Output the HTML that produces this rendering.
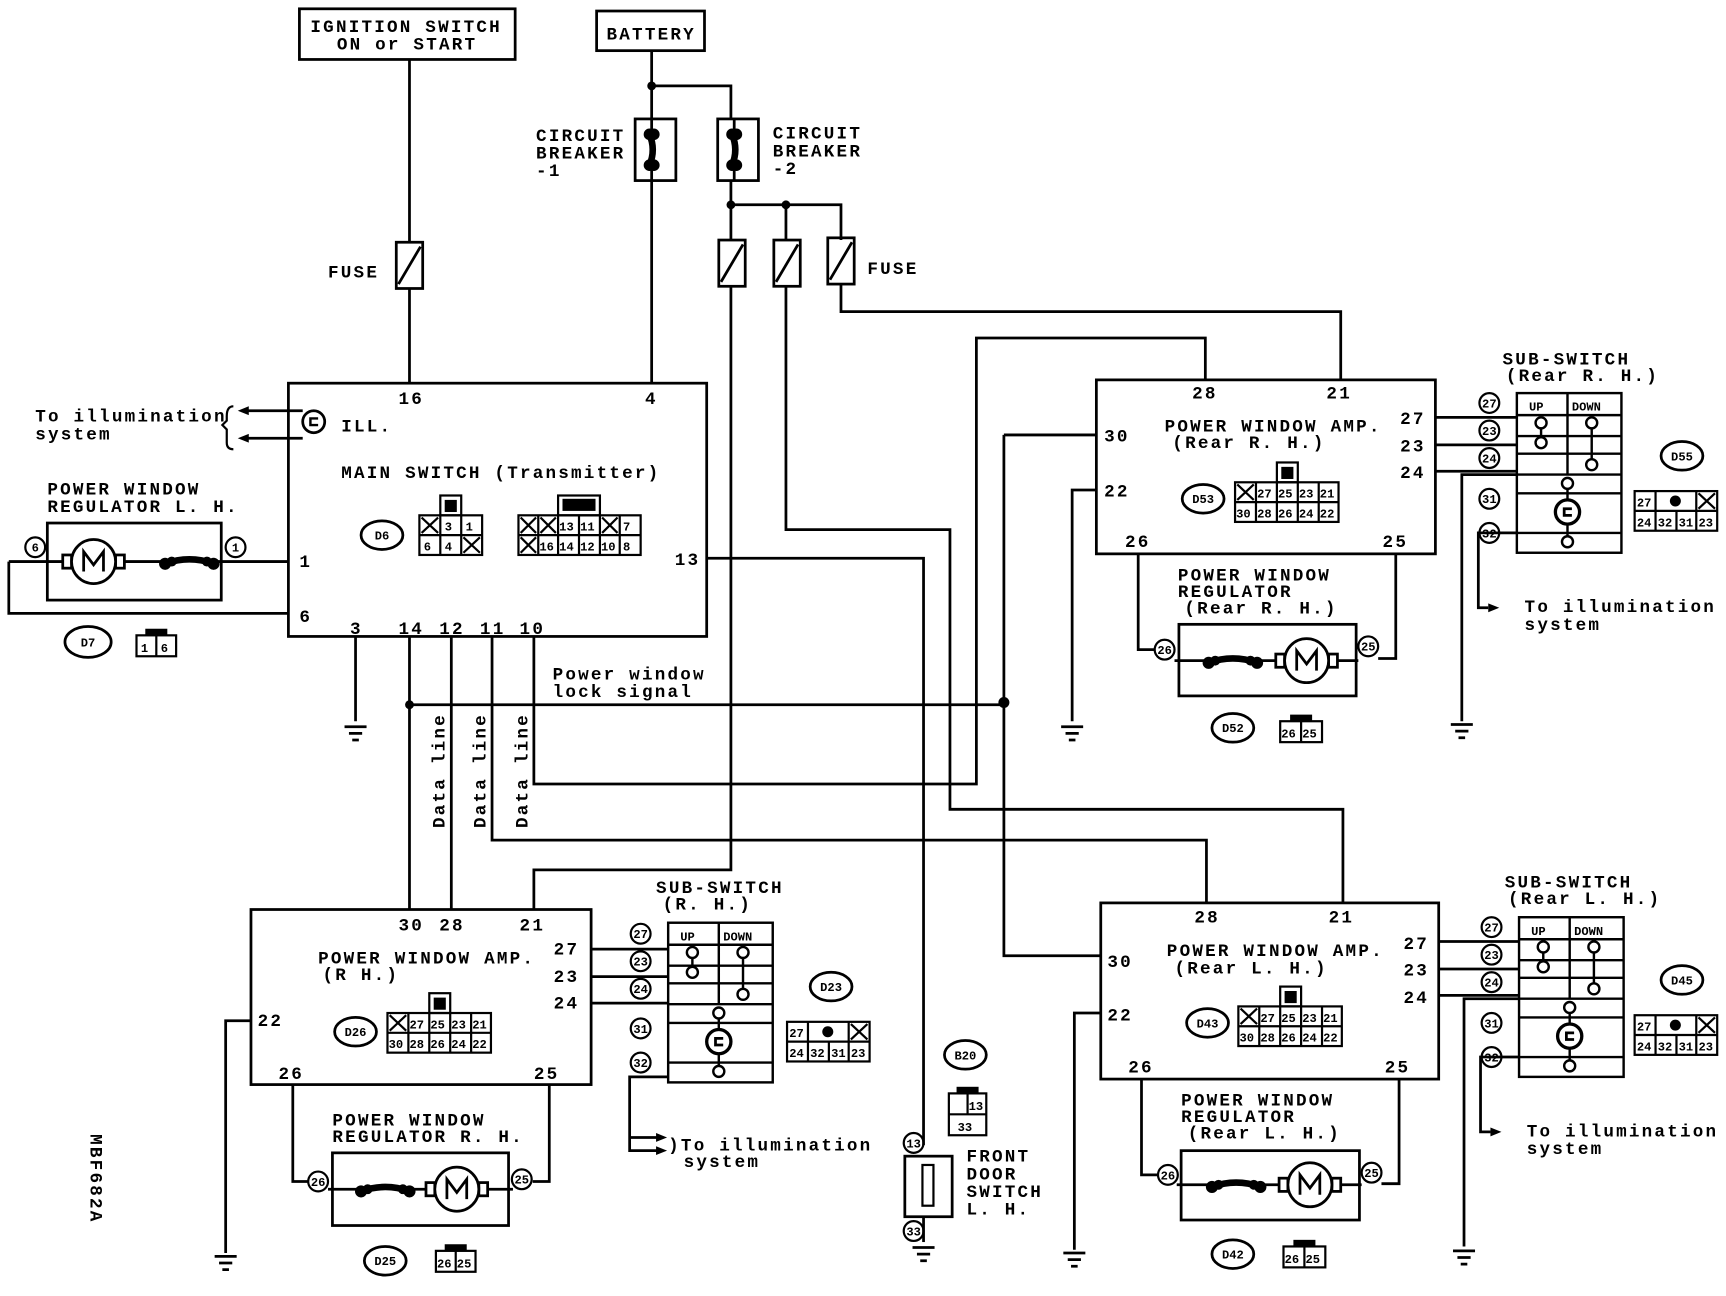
<!DOCTYPE html>
<html><head><meta charset="utf-8">
<style>
html,body{margin:0;padding:0;background:#fff;}
svg{display:block;}
text{font-family:"Liberation Mono",monospace;font-weight:bold;font-size:16px;fill:#000;letter-spacing:2px;}
.s{font-size:11px;letter-spacing:0;}
.m{font-size:14px;}
</style></head><body>
<svg width="1726" height="1296" viewBox="0 0 1568 1177" preserveAspectRatio="none" xmlns="http://www.w3.org/2000/svg">
<defs>
<g id="sw" fill="none" stroke="#000" stroke-width="2.2">
<rect x="0" y="0" width="95" height="145"/>
<path d="M0 20H95M0 39H95M0 55H95M0 74H95M0 91H95M0 127H95M46 0V74M22 27V45M68 27V65M46 82V135"/>
<circle cx="22" cy="27" r="5" fill="#fff"/><circle cx="22" cy="45" r="5" fill="#fff"/>
<circle cx="68" cy="27" r="5" fill="#fff"/><circle cx="68" cy="65" r="5" fill="#fff"/>
<circle cx="46" cy="82" r="5" fill="#fff"/><circle cx="46" cy="135" r="5" fill="#fff"/>
<circle cx="46" cy="108" r="11" fill="#fff" stroke-width="3"/><path d="M50 105H43V111H50" stroke-width="2.5"/>
</g>
<g id="pc" fill="none" stroke="#000" stroke-width="2"><circle cx="0" cy="0" r="9"/></g>
<g id="fuse" fill="none" stroke="#000" stroke-width="2.5"><rect x="-12" y="0" width="24" height="42"/><path d="M-10 38L10 4"/></g>
<g id="cb" fill="none" stroke="#000" stroke-width="2.5"><rect x="-15" y="0" width="37" height="56"/><path d="M0 -1V57" stroke-width="2.5"/><path d="M-2 14 Q4 28 -2 42" stroke-width="6"/><circle cx="-2" cy="14" r="4" fill="#000"/><circle cx="2" cy="14" r="4" fill="#000"/><circle cx="-2" cy="42" r="4" fill="#000"/><circle cx="2" cy="42" r="4" fill="#000"/></g>
<g id="motL" fill="none" stroke="#000" stroke-width="2.5"><rect x="-28" y="-6" width="8" height="12"/><rect x="20" y="-6" width="8" height="12"/><circle cx="0" cy="0" r="20" fill="#fff"/><path d="M-9 9V-9L0 3L9 -9V9"/></g>
<g id="bone" stroke="#000" fill="#000"><path d="M-22 0Q0 -8 22 0" stroke-width="6" fill="none"/><circle cx="-22" cy="0" r="5"/><circle cx="-16" cy="-2" r="4"/><circle cx="22" cy="0" r="5"/><circle cx="16" cy="-2" r="4"/></g>
<g id="gnd" stroke="#000" stroke-width="2.5"><path d="M-10 0H10M-6 6H6M-3 12H3"/></g>
</defs>

<g fill="none" stroke="#000" stroke-width="2.5">
<rect x="272" y="8" width="196" height="46"/>
<rect x="542" y="10" width="98" height="36"/>
<path d="M372 54V220M372 262V348"/>
<path d="M592 46V108M592 78H664V108M592 164V348M664 164V218M664 186H764V218M714 186V218"/>
<path d="M664 260V790H485V826"/>
<path d="M714 260V481H863V735H1220V820"/>
<path d="M764 258V283H1218V345"/>
<rect x="262" y="348" width="380" height="230"/>
<path d="M323 578V655"/>
<path d="M372 578V826M410 578V826M447 578V763H1096V820M485 578V712H887V307H1095V345"/>
<path d="M372 640H912M912 395H996M912 395V868H1000"/>
<path d="M642 507H839V1040"/>
<path d="M275 373H222M275 398H222"/>
<path d="M212 369Q206 369 206 378V382L202 386L206 390V402Q206 408 212 408" stroke-width="2"/>
<rect x="43" y="475" width="158" height="70"/>
<path d="M8 510H57M113 510H150M194 510H262M8 510V557H262"/>
<rect x="996" y="345" width="308" height="158"/>
<path d="M996 445H974V655M1034 503V590H1049M1268 503V598H1252"/>
<rect x="1071" y="567" width="161" height="65"/>
<path d="M1067 600H1098M1142 600H1159M1215 600H1234"/>
<path d="M1304 379H1378M1304 404H1378M1304 428H1378M1378 431H1328V655M1378 484H1343V552H1352"/>
<rect x="1000" y="820" width="307" height="160"/>
<path d="M1000 920H976V1135M1037 980V1067H1052M1271 980V1075H1255"/>
<rect x="1073" y="1045" width="162" height="63"/>
<path d="M1069 1076H1101M1145 1076H1162M1218 1076H1237"/>
<path d="M1307 855H1380M1307 880H1380M1307 904H1380M1380 907H1330V1132M1380 960H1345V1028H1354"/>
<rect x="228" y="826" width="309" height="159"/>
<path d="M228 927H205V1138M266 985V1073H280M499 985V1073H484"/>
<rect x="302" y="1047" width="160" height="66"/>
<path d="M298 1080H328M372 1080H387M443 1080H466"/>
<path d="M537 862H607M537 887H607M537 911H607M607 978H572V1045H598"/>
<rect x="822" y="1050" width="43" height="55"/>
<rect x="838" y="1058" width="10" height="37" stroke-width="2"/>
<path d="M839 1105V1128"/>
</g>

<g fill="#000">
<path d="M216 373l10-4v8z"/><path d="M216 398l10-4v8z"/>
<path d="M1362 552l-10-4v8z"/><path d="M1364 1028l-10-4v8z"/><path d="M606 1045l-10-4v8z"/><path d="M606 1033l-10-4v8z"/>
<circle cx="592" cy="78" r="4"/><circle cx="664" cy="186" r="4"/><circle cx="714" cy="186" r="4"/>
<circle cx="372" cy="640" r="4"/><circle cx="912" cy="638" r="5"/>
</g>
<path d="M572 1033H598" stroke="#000" stroke-width="2.5"/>

<use href="#fuse" x="372" y="220"/>
<use href="#fuse" x="665" y="218"/><use href="#fuse" x="715" y="218"/><use href="#fuse" x="764" y="216"/>
<use href="#cb" x="592" y="108"/><use href="#cb" x="667" y="108"/>
<use href="#gnd" x="323" y="660"/><use href="#gnd" x="974" y="660"/><use href="#gnd" x="1328" y="658"/>
<use href="#gnd" x="976" y="1138"/><use href="#gnd" x="1330" y="1136"/><use href="#gnd" x="205" y="1141"/><use href="#gnd" x="839" y="1133"/>
<use href="#motL" x="85" y="510"/><use href="#bone" x="172" y="512"/>
<use href="#motL" x="1187" y="600"/><use href="#bone" x="1120" y="602"/>
<use href="#motL" x="1190" y="1076"/><use href="#bone" x="1123" y="1078"/>
<use href="#motL" x="415" y="1080"/><use href="#bone" x="350" y="1082"/>
<use href="#sw" x="1378" y="357"/><use href="#sw" x="1380" y="833"/><use href="#sw" x="607" y="838"/>

<g>
<use href="#pc" x="32" y="497"/><use href="#pc" x="214" y="497"/>
<use href="#pc" x="1058" y="590"/><use href="#pc" x="1243" y="587"/>
<use href="#pc" x="1061" y="1067"/><use href="#pc" x="1246" y="1065"/>
<use href="#pc" x="289" y="1073"/><use href="#pc" x="474" y="1071"/>
<use href="#pc" x="1353" y="366"/><use href="#pc" x="1353" y="391"/><use href="#pc" x="1353" y="416"/><use href="#pc" x="1353" y="453"/><use href="#pc" x="1353" y="484"/>
<use href="#pc" x="1355" y="842"/><use href="#pc" x="1355" y="867"/><use href="#pc" x="1355" y="892"/><use href="#pc" x="1355" y="929"/><use href="#pc" x="1355" y="960"/>
<use href="#pc" x="582" y="848"/><use href="#pc" x="582" y="873"/><use href="#pc" x="582" y="898"/><use href="#pc" x="582" y="934"/><use href="#pc" x="582" y="965"/>
<use href="#pc" x="830" y="1038"/><use href="#pc" x="830" y="1118"/>
</g>
<g class="s" text-anchor="middle">
<text x="32" y="501" class="s">6</text><text x="214" y="501" class="s">1</text>
<text x="1058" y="594" class="s">26</text><text x="1243" y="591" class="s">25</text>
<text x="1061" y="1071" class="s">26</text><text x="1246" y="1069" class="s">25</text>
<text x="289" y="1077" class="s">26</text><text x="474" y="1075" class="s">25</text>
<text x="1353" y="370" class="s">27</text><text x="1353" y="395" class="s">23</text><text x="1353" y="420" class="s">24</text><text x="1353" y="457" class="s">31</text><text x="1353" y="488" class="s">32</text>
<text x="1355" y="846" class="s">27</text><text x="1355" y="871" class="s">23</text><text x="1355" y="896" class="s">24</text><text x="1355" y="933" class="s">31</text><text x="1355" y="964" class="s">32</text>
<text x="582" y="852" class="s">27</text><text x="582" y="877" class="s">23</text><text x="582" y="902" class="s">24</text><text x="582" y="938" class="s">31</text><text x="582" y="969" class="s">32</text>
<text x="830" y="1042" class="s">13</text><text x="830" y="1122" class="s">33</text>
</g>

<circle cx="285" cy="383" r="10" fill="none" stroke="#000" stroke-width="2.5"/><path d="M289 380H282V386H289" fill="none" stroke="#000" stroke-width="2.2"/>

<g fill="none" stroke="#000" stroke-width="2.5">
<ellipse cx="80" cy="583" rx="21" ry="14"/><ellipse cx="347" cy="486" rx="19" ry="13"/>
<ellipse cx="1093" cy="453" rx="19" ry="13"/><ellipse cx="1120" cy="661" rx="19" ry="13"/><ellipse cx="1528" cy="414" rx="19" ry="13"/>
<ellipse cx="1097" cy="929" rx="19" ry="13"/><ellipse cx="1120" cy="1139" rx="19" ry="13"/><ellipse cx="1528" cy="890" rx="19" ry="13"/>
<ellipse cx="323" cy="937" rx="19" ry="13"/><ellipse cx="350" cy="1145" rx="19" ry="13"/><ellipse cx="755" cy="896" rx="19" ry="13"/><ellipse cx="877" cy="958" rx="19" ry="13"/>
</g>
<g class="s" text-anchor="middle">
<text x="80" y="587" class="s">D7</text><text x="347" y="490" class="s">D6</text>
<text x="1093" y="457" class="s">D53</text><text x="1120" y="665" class="s">D52</text><text x="1528" y="418" class="s">D55</text>
<text x="1097" y="933" class="s">D43</text><text x="1120" y="1143" class="s">D42</text><text x="1528" y="894" class="s">D45</text>
<text x="323" y="941" class="s">D26</text><text x="350" y="1149" class="s">D25</text><text x="755" y="900" class="s">D23</text><text x="877" y="962" class="s">B20</text>
</g>

<g fill="none" stroke="#000" stroke-width="2">
<rect x="124" y="577" width="36" height="19"/><path d="M142 577V596"/>
<rect x="381" y="468" width="57" height="36"/><path d="M381 486H438M400 468V504M419 468V504M383 470L398 484M398 470L383 484M421 488L436 502M436 488L421 502"/>
<rect x="400" y="450" width="19" height="18"/>
<rect x="471" y="468" width="111" height="36"/><path d="M471 486H582M489 468V504M507 468V504M526 468V504M545 468V504M563 468V504M473 470L487 484M487 470L473 484M491 470L505 484M505 470L491 484M547 470L561 484M561 470L547 484M473 488L487 502M487 488L473 502"/>
<rect x="507" y="450" width="38" height="18"/>
<rect x="1122" y="438" width="94" height="36"/><path d="M1122 456H1216M1141 438V474M1160 438V474M1179 438V474M1198 438V474M1124 440L1139 454M1139 440L1124 454"/><rect x="1160" y="420" width="19" height="18"/>
<rect x="1125" y="914" width="94" height="36"/><path d="M1125 932H1219M1144 914V950M1163 914V950M1182 914V950M1201 914V950M1127 916L1142 930M1142 916L1127 930"/><rect x="1163" y="896" width="19" height="18"/>
<rect x="352" y="920" width="94" height="36"/><path d="M352 938H446M371 920V956M390 920V956M409 920V956M428 920V956M354 922L369 936M369 922L354 936"/><rect x="390" y="902" width="19" height="18"/>
<rect x="1485" y="446" width="75" height="36"/><path d="M1485 464H1560M1504 446V482M1541 446V482M1523 464V482M1543 448L1558 462M1558 448L1543 462"/>
<rect x="1485" y="922" width="75" height="36"/><path d="M1485 940H1560M1504 922V958M1541 922V958M1523 940V958M1543 924L1558 938M1558 924L1543 938"/>
<rect x="715" y="928" width="75" height="36"/><path d="M715 946H790M734 928V964M771 928V964M753 946V964M773 930L788 944M788 930L773 944"/>
<rect x="1163" y="655" width="38" height="19"/><path d="M1182 655V674"/>
<rect x="1166" y="1132" width="38" height="19"/><path d="M1185 1132V1151"/>
<rect x="396" y="1136" width="36" height="19"/><path d="M414 1136V1155"/>
<rect x="862" y="993" width="34" height="38"/><path d="M862 1012H896M879 993V1012"/>
</g>
<g fill="#000">
<rect x="132" y="571" width="20" height="6"/><rect x="404" y="454" width="11" height="11"/><rect x="511" y="453" width="30" height="11"/>
<rect x="1164" y="424" width="11" height="11"/><rect x="1167" y="900" width="11" height="11"/><rect x="394" y="906" width="11" height="11"/>
<circle cx="1522" cy="455" r="5"/><circle cx="1522" cy="931" r="5"/><circle cx="752" cy="937" r="5"/>
<rect x="1172" y="649" width="20" height="6"/><rect x="1175" y="1126" width="20" height="6"/><rect x="404" y="1130" width="20" height="6"/><rect x="869" y="987" width="20" height="6"/>
</g>
<g class="s">
<text x="128" y="592" class="s">1</text><text x="146" y="592" class="s">6</text>
<text x="404" y="482" class="s">3</text><text x="423" y="482" class="s">1</text><text x="385" y="500" class="s">6</text><text x="404" y="500" class="s">4</text>
<text x="508" y="482" class="s">13</text><text x="527" y="482" class="s">11</text><text x="566" y="482" class="s">7</text>
<text x="490" y="500" class="s">16</text><text x="508" y="500" class="s">14</text><text x="527" y="500" class="s">12</text><text x="546" y="500" class="s">10</text><text x="566" y="500" class="s">8</text>
<text x="1142" y="452" class="s">27</text><text x="1161" y="452" class="s">25</text><text x="1180" y="452" class="s">23</text><text x="1199" y="452" class="s">21</text>
<text x="1123" y="470" class="s">30</text><text x="1142" y="470" class="s">28</text><text x="1161" y="470" class="s">26</text><text x="1180" y="470" class="s">24</text><text x="1199" y="470" class="s">22</text>
<text x="1145" y="928" class="s">27</text><text x="1164" y="928" class="s">25</text><text x="1183" y="928" class="s">23</text><text x="1202" y="928" class="s">21</text>
<text x="1126" y="946" class="s">30</text><text x="1145" y="946" class="s">28</text><text x="1164" y="946" class="s">26</text><text x="1183" y="946" class="s">24</text><text x="1202" y="946" class="s">22</text>
<text x="372" y="934" class="s">27</text><text x="391" y="934" class="s">25</text><text x="410" y="934" class="s">23</text><text x="429" y="934" class="s">21</text>
<text x="353" y="952" class="s">30</text><text x="372" y="952" class="s">28</text><text x="391" y="952" class="s">26</text><text x="410" y="952" class="s">24</text><text x="429" y="952" class="s">22</text>
<text x="1487" y="460" class="s">27</text><text x="1487" y="478" class="s">24</text><text x="1506" y="478" class="s">32</text><text x="1525" y="478" class="s">31</text><text x="1543" y="478" class="s">23</text>
<text x="1487" y="936" class="s">27</text><text x="1487" y="954" class="s">24</text><text x="1506" y="954" class="s">32</text><text x="1525" y="954" class="s">31</text><text x="1543" y="954" class="s">23</text>
<text x="717" y="942" class="s">27</text><text x="717" y="960" class="s">24</text><text x="736" y="960" class="s">32</text><text x="755" y="960" class="s">31</text><text x="773" y="960" class="s">23</text>
<text x="1164" y="670" class="s">26</text><text x="1183" y="670" class="s">25</text>
<text x="1167" y="1147" class="s">26</text><text x="1186" y="1147" class="s">25</text>
<text x="397" y="1151" class="s">26</text><text x="415" y="1151" class="s">25</text>
<text x="880" y="1008" class="s">13</text><text x="870" y="1027" class="s">33</text>
<text x="1389" y="373" class="s">UP</text><text x="1428" y="373" class="s">DOWN</text>
<text x="1391" y="849" class="s">UP</text><text x="1430" y="849" class="s">DOWN</text>
<text x="618" y="854" class="s">UP</text><text x="657" y="854" class="s">DOWN</text>
</g>

<text x="282" y="29">IGNITION SWITCH</text><text x="306" y="45">ON or START</text>
<text x="551" y="36">BATTERY</text>
<text x="487" y="128">CIRCUIT</text><text x="487" y="144">BREAKER</text><text x="487" y="160">-1</text>
<text x="702" y="126">CIRCUIT</text><text x="702" y="142">BREAKER</text><text x="702" y="158">-2</text>
<text x="298" y="252">FUSE</text><text x="788" y="249">FUSE</text>
<text x="362" y="367">16</text><text x="586" y="367">4</text>
<text x="310" y="392">ILL.</text>
<text x="32" y="383">To illumination</text><text x="32" y="399">system</text>
<text x="310" y="434">MAIN SWITCH (Transmitter)</text>
<text x="43" y="449">POWER WINDOW</text><text x="43" y="465">REGULATOR L. H.</text>
<text x="272" y="515">1</text><text x="272" y="565">6</text>
<text x="318" y="576">3</text><text x="362" y="576">14</text><text x="399" y="576">12</text><text x="436" y="576">11</text><text x="472" y="576">10</text>
<text x="613" y="513">13</text>
<text x="502" y="617">Power window</text><text x="502" y="633">lock signal</text>
<text transform="translate(404,752) rotate(-90)">Data line</text>
<text transform="translate(441,752) rotate(-90)">Data line</text>
<text transform="translate(479,752) rotate(-90)">Data line</text>
<text transform="translate(82,1030) rotate(90)" font-size="13">MBF682A</text>
<text x="1083" y="362">28</text><text x="1205" y="362">21</text>
<text x="1003" y="401">30</text><text x="1003" y="451">22</text>
<text x="1272" y="385">27</text><text x="1272" y="410">23</text><text x="1272" y="434">24</text>
<text x="1022" y="497">26</text><text x="1256" y="497">25</text>
<text x="1058" y="392">POWER WINDOW AMP.</text><text x="1065" y="407">(Rear R. H.)</text>
<text x="1070" y="527">POWER WINDOW</text><text x="1070" y="542">REGULATOR</text><text x="1076" y="557">(Rear R. H.)</text>
<text x="1365" y="331">SUB-SWITCH</text><text x="1368" y="346">(Rear R. H.)</text>
<text x="1385" y="556">To illumination</text><text x="1385" y="572">system</text>
<text x="1085" y="838">28</text><text x="1207" y="838">21</text>
<text x="1006" y="878">30</text><text x="1006" y="927">22</text>
<text x="1275" y="862">27</text><text x="1275" y="886">23</text><text x="1275" y="911">24</text>
<text x="1025" y="974">26</text><text x="1258" y="974">25</text>
<text x="1060" y="868">POWER WINDOW AMP.</text><text x="1067" y="884">(Rear L. H.)</text>
<text x="1073" y="1004">POWER WINDOW</text><text x="1073" y="1019">REGULATOR</text><text x="1079" y="1034">(Rear L. H.)</text>
<text x="1367" y="806">SUB-SWITCH</text><text x="1370" y="821">(Rear L. H.)</text>
<text x="1387" y="1032">To illumination</text><text x="1387" y="1048">system</text>
<text x="362" y="845">30</text><text x="399" y="845">28</text><text x="472" y="845">21</text>
<text x="503" y="867">27</text><text x="503" y="892">23</text><text x="503" y="916">24</text>
<text x="234" y="932">22</text><text x="253" y="980">26</text><text x="485" y="980">25</text>
<text x="289" y="875">POWER WINDOW AMP.</text><text x="293" y="890">(R H.)</text>
<text x="302" y="1022">POWER WINDOW</text><text x="302" y="1037">REGULATOR R. H.</text>
<text x="596" y="811">SUB-SWITCH</text><text x="602" y="826">(R. H.)</text>
<text x="607" y="1045">)To illumination</text><text x="621" y="1060">system</text>
<text x="878" y="1055">FRONT</text><text x="878" y="1071">DOOR</text><text x="878" y="1087">SWITCH</text><text x="878" y="1103">L. H.</text>
</svg>
</body></html>
